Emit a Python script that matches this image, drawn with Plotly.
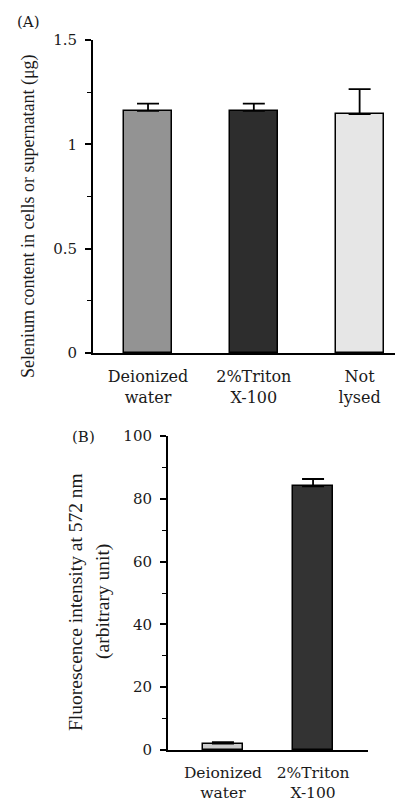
import plotly.graph_objects as go

# page body has an 8px margin; the figure starts at (8, 8)
OFF = 8
W, H = 403 - OFF, 806 - OFF

# Panel A data
cat_a = ["Deionized<br>water", "2%Triton<br>X-100", "Not<br>lysed"]
val_a = [1.16, 1.16, 1.145]
err_a = [0.035, 0.035, 0.12]
col_a = ["#939393", "#2d2d2d", "#e6e6e6"]

# Panel B data
cat_b = ["Deionized<br>water", "2%Triton<br>X-100"]
val_b = [2.0, 84.0]
err_b = [0.5, 2.3]
col_b = ["#cccccc", "#333333"]

ytick_a = [0, 0.5, 1, 1.5]
ytick_a_text = ["0", "0.5", "1", "1.5"]
ytick_b = [0, 20, 40, 60, 80, 100]

HFONT = "DejaVu Serif, Liberation Serif, serif"
VFONT = "Liberation Serif, Times New Roman, serif"
TXT = "#1a1a1a"

def px_x(p):
    return (p - OFF) / W

def px_y(p):
    return 1 - (p - OFF) / H

fig = go.Figure()

fig.add_trace(go.Bar(
    x=cat_a, y=val_a, width=0.455,
    marker=dict(color=col_a, line=dict(color="black", width=1.5)),
    error_y=dict(type="data", symmetric=False, array=err_a, arrayminus=[0]*3,
                 color="black", thickness=1.8, width=11),
    xaxis="x", yaxis="y", showlegend=False))

fig.add_trace(go.Bar(
    x=cat_b, y=val_b, width=0.445,
    marker=dict(color=col_b, line=dict(color="black", width=1.5)),
    error_y=dict(type="data", symmetric=False, array=err_b, arrayminus=[0]*2,
                 color="black", thickness=1.8, width=11),
    xaxis="x2", yaxis="y2", showlegend=False))

axis_common = dict(showgrid=False, zeroline=False, showline=True, linecolor="black",
                   linewidth=2, automargin=False)
xfont = dict(family=HFONT, size=16, color=TXT)
xfont_b = dict(family=HFONT, size=15.5, color=TXT)
yfont = dict(family=HFONT, size=15, color=TXT)

fig.update_layout(
    width=W, height=H, autosize=False,
    margin=dict(l=0, r=0, t=0, b=0, pad=0),
    paper_bgcolor="white", plot_bgcolor="white",
    font=dict(family=HFONT, size=15, color=TXT),
    bargap=0,
    xaxis=dict(domain=[px_x(93), 1.0], range=[-0.52, 2.41], ticks="",
               tickfont=xfont, ticklabelstandoff=8, anchor="y", **axis_common),
    yaxis=dict(domain=[px_y(353), px_y(40)], range=[0, 1.5], tickvals=ytick_a,
               ticktext=ytick_a_text, ticks="outside", ticklen=6, tickwidth=1.5,
               tickcolor="black", ticklabelstandoff=5, tickfont=yfont,
               minor=dict(tickvals=[0.25, 0.75, 1.25], ticks="outside", ticklen=4,
                          tickcolor="black", tickwidth=1.2),
               anchor="x", **axis_common),
    xaxis2=dict(domain=[px_x(168), px_x(368)], range=[-0.61, 1.61], ticks="",
                tickfont=xfont_b, ticklabelstandoff=7, anchor="y2", **axis_common),
    yaxis2=dict(domain=[px_y(750), px_y(436)], range=[0, 100], tickvals=ytick_b,
                ticks="outside", ticklen=6, tickwidth=1.5, tickcolor="black",
                ticklabelstandoff=5, tickfont=yfont,
                minor=dict(tickvals=[10, 30, 50, 70, 90], ticks="outside", ticklen=4,
                           tickcolor="black", tickwidth=1.2),
                anchor="x2", **axis_common),
)

def label(xp, yp, text, family, size, angle=0):
    fig.add_annotation(x=px_x(xp), y=px_y(yp), xref="paper", yref="paper",
                       xanchor="center", yanchor="middle", text=text,
                       textangle=angle, showarrow=False,
                       font=dict(family=family, size=size, color=TXT))

label(28, 22, "(A)", HFONT, 15)
label(83, 437, "(B)", HFONT, 15)
label(28, 216, "Selenium content in cells or supernatant (μg)", VFONT, 18, -90)
label(75, 602, "Fluorescence intensity at 572 nm", VFONT, 19.5, -90)
label(103, 602, "(arbitrary unit)", VFONT, 19.5, -90)

fig.write_html("out.html")
